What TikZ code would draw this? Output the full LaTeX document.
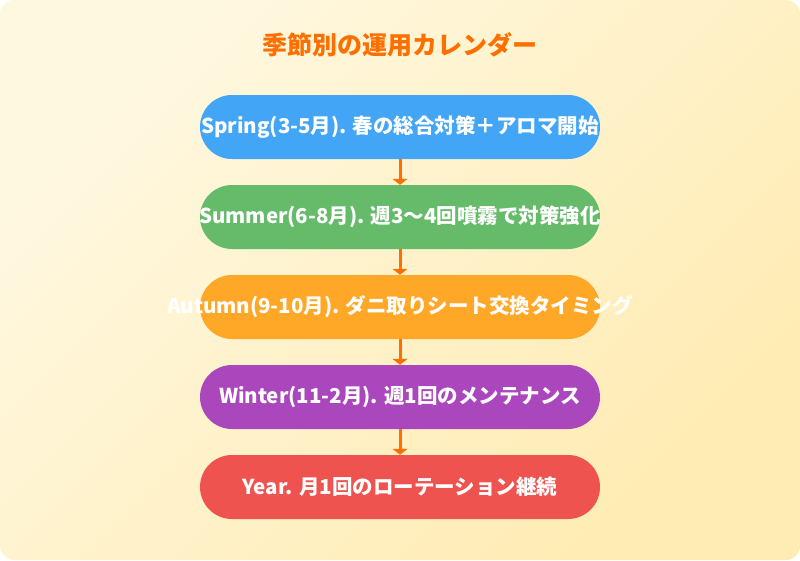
\documentclass[tikz,border=0pt]{standalone}
\usepackage{fontspec}
\setmainfont{Noto Sans CJK JP}
\usetikzlibrary{arrows.meta}

\definecolor{bgtop}{HTML}{FFF8E1}
\definecolor{bgbot}{HTML}{FFECB3}
\definecolor{calorange}{HTML}{FF6F00}
\definecolor{springblue}{HTML}{42A5F5}
\definecolor{summergreen}{HTML}{66BB6A}
\definecolor{autumnorange}{HTML}{FFA726}
\definecolor{winterpurple}{HTML}{AB47BC}
\definecolor{yearred}{HTML}{EF5350}

\tikzset{
    stagebox/.style={rectangle, rounded corners=32pt, minimum width=400pt, minimum height=64pt,
        inner sep=0pt, text=white, font=\bfseries\fontsize{20.5}{24}\selectfont},
    flowarrow/.style={draw=calorange, line width=3pt, -{Triangle[width=15pt,length=6pt]}},
}
\newcommand{\widetext}[1]{\makebox[0pt]{#1}}

\begin{document}
\begin{tikzpicture}[x=1pt,y=-1pt]

    \useasboundingbox (0,0) rectangle (800,560);
    \shade[rounded corners=14pt, top color=bgtop, bottom color=bgbot, shading angle=45] (0,0) rectangle (800,560);

    \node[text=calorange, font=\bfseries\fontsize{25}{30}\selectfont] (title) at (400,45) {季節別の運用カレンダー};

    \foreach \n / \y / \c / \t in {1/127/springblue/{Spring(3-5月). 春の総合対策＋アロマ開始},
                                   2/217/summergreen/{Summer(6-8月). 週3～4回噴霧で対策強化},
                                   3/307/autumnorange/{Autumn(9-10月). ダニ取りシート交換タイミング},
                                   4/397/winterpurple/{Winter(11-2月). 週1回のメンテナンス},
                                   5/487/yearred/{Year. 月1回のローテーション継続}}
        \node[stagebox, fill=\c] (s\n) at (400,\y) {\widetext{\t}};

    \foreach \a / \b in {1/2, 2/3, 3/4, 4/5}
        \draw[flowarrow] (s\a) -- (s\b);

\end{tikzpicture}
\end{document}
